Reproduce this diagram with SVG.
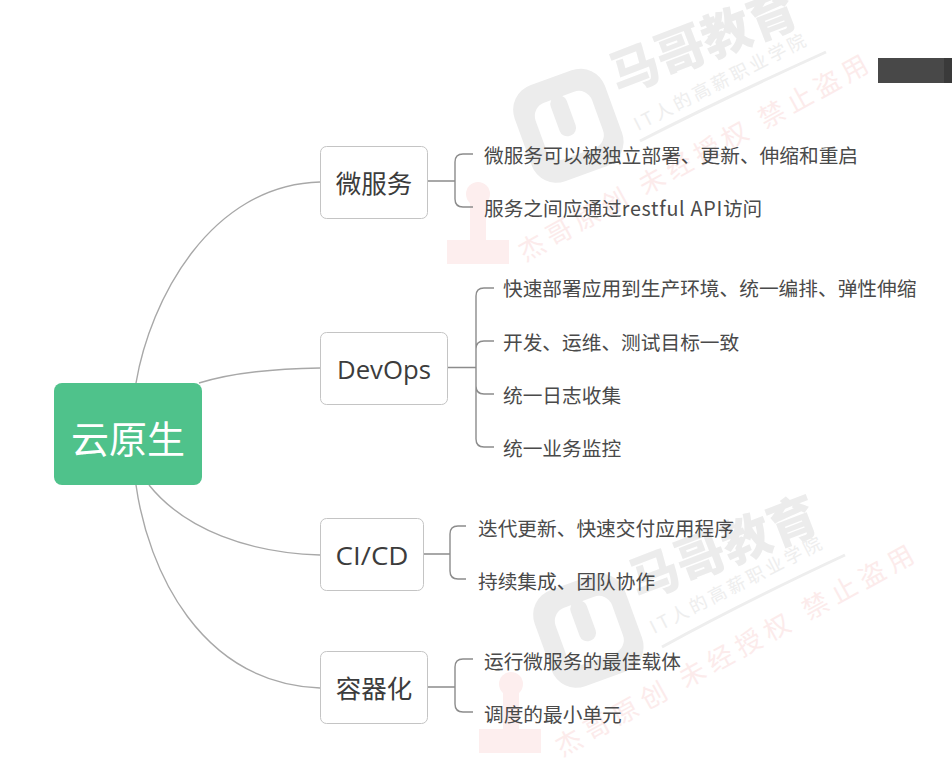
<svg xmlns="http://www.w3.org/2000/svg" width="952" height="778" viewBox="0 0 952 778">
<style>
text{font-family:"Noto Sans CJK SC","Liberation Sans",sans-serif}
.n{fill:#fff;stroke:#c4c4c4;stroke-width:1}
.nt{font-size:25.5px;fill:#3c3c3c;text-anchor:middle;dominant-baseline:central}
.lat{font-family:"Open Sans","Liberation Sans",sans-serif;font-size:26px}
.l{font-size:19.7px;fill:#4a4a4a}
.c{fill:none;stroke:#a8a8a8;stroke-width:1.4}
.b{fill:none;stroke:#8c8c8c;stroke-width:1.4}
.wm1{font-size:50px;font-weight:900;fill:#ececec}
.wm2{font-size:18px;fill:#eeeeee}
.wm3{font-size:26px;fill:#fcebeb}
.ul{fill:none;stroke:#eeeeee;stroke-width:3}
.lg{fill:#ececec}
.lw{fill:#fff}
.st{fill:#fdeeee}
</style>
<rect width="952" height="778" fill="#fff"/>
<g id="watermarks">
<g id="wm-a">
<text class="wm1" transform="translate(618,94) rotate(-21)" textLength="197" lengthAdjust="spacingAndGlyphs">马哥教育</text>
<text class="wm2" transform="translate(638,131) rotate(-27)" textLength="190" lengthAdjust="spacing">IT人的高薪职业学院</text>
<path class="ul" d="M640 141 Q720 100 826 52"/>
<g transform="translate(567,122) rotate(-20)">
<rect class="lg" x="-48" y="-47" width="96" height="102" rx="26"/>
<rect class="lw" x="-29" y="-26" width="60" height="60" rx="14"/>
<rect class="lg" x="-10" y="-28" width="17" height="42" rx="8"/>
</g>
<text class="wm3" transform="translate(525,262) rotate(-29)" textLength="395" lengthAdjust="spacing">杰哥原创 未经授权 禁止盗用</text>
</g>
<g id="wm-b">
<text class="wm1" transform="translate(638,600) rotate(-21)" textLength="197" lengthAdjust="spacingAndGlyphs">马哥教育</text>
<text class="wm2" transform="translate(654,634) rotate(-27)" textLength="190" lengthAdjust="spacing">IT人的高薪职业学院</text>
<path class="ul" d="M662 647 Q740 604 845 555"/>
<g transform="translate(587,627) rotate(-20)">
<rect class="lg" x="-48" y="-47" width="96" height="102" rx="26"/>
<rect class="lw" x="-29" y="-26" width="60" height="60" rx="14"/>
<rect class="lg" x="-10" y="-28" width="17" height="42" rx="8"/>
</g>
<text class="wm3" transform="translate(562,757) rotate(-29)" textLength="405" lengthAdjust="spacing">杰哥原创 未经授权 禁止盗用</text>
</g>
<g id="stamp-a" class="st"><circle cx="478" cy="194" r="12"/><rect x="470" y="200" width="16" height="42"/><rect x="447" y="240" width="62" height="24"/></g>
<g id="stamp-b" class="st"><circle cx="511" cy="684" r="12"/><rect x="503" y="690" width="16" height="42"/><rect x="479" y="729" width="62" height="24"/></g>
</g>
<rect x="878" y="58" width="74" height="25" fill="#484848"/>
<rect x="944" y="58" width="8" height="25" fill="#3a3a3a"/>
<g id="connectors">
<path class="c" d="M136 383 C150 300 210 185 320 182"/>
<path class="c" d="M199 383 C235 372 275 369 320 368"/>
<path class="c" d="M149 485 C185 530 250 553 320 555"/>
<path class="c" d="M136 485 C148 570 200 683 320 688"/>
<path class="b" d="M428 181 H455 M473 154 H463 Q455 154 455 162 V199 Q455 207 463 207 H473"/>
<path class="b" d="M448 367.500 H476 M494 288 H484 Q476 288 476 296 V439 Q476 447 484 447 H494 M476 349 Q476 341 484 341 H494 M476 386 Q476 394 484 394 H494"/>
<path class="b" d="M424 554 H450 M466 526 H458 Q450 526 450 534 V571 Q450 579 458 579 H466"/>
<path class="b" d="M428 687 H455 M473 659 H463 Q455 659 455 667 V704 Q455 712 463 712 H473"/>
</g>
<g id="root"><rect x="54" y="383" width="148" height="102" rx="8" fill="#4fc28b"/><text x="128" y="436" font-size="38px" fill="#fff" text-anchor="middle" dominant-baseline="central">云原生</text></g>
<g id="node-weifuwu"><rect class="n" x="320.500" y="146.500" width="107" height="72" rx="6"/><text class="nt" x="374" y="181">微服务</text></g>
<g id="node-devops"><rect class="n" x="320.500" y="332.500" width="127" height="72" rx="6"/><text class="nt lat" x="384" y="369" textLength="94" lengthAdjust="spacingAndGlyphs">DevOps</text></g>
<g id="node-cicd"><rect class="n" x="320.500" y="518.500" width="103" height="72" rx="6"/><text class="nt lat" x="372" y="555" textLength="73" lengthAdjust="spacingAndGlyphs">CI/CD</text></g>
<g id="node-rongqi"><rect class="n" x="320.500" y="651.500" width="107" height="72" rx="6"/><text class="nt" x="374" y="686">容器化</text></g>
<g id="leaves">
<text class="l" x="484" y="162.500">微服务可以被独立部署、更新、伸缩和重启</text>
<text class="l" x="484" y="215.500">服务之间应通过<tspan letter-spacing=".73">restful API</tspan>访问</text>
<text class="l" x="503" y="295.500">快速部署应用到生产环境、统一编排、弹性伸缩</text>
<text class="l" x="503" y="349.500">开发、运维、测试目标一致</text>
<text class="l" x="503" y="402.500">统一日志收集</text>
<text class="l" x="503" y="455.500">统一业务监控</text>
<text class="l" x="478" y="535.500">迭代更新、快速交付应用程序</text>
<text class="l" x="478" y="588.500">持续集成、团队协作</text>
<text class="l" x="484" y="668.500">运行微服务的最佳载体</text>
<text class="l" x="484" y="721.500">调度的最小单元</text>
</g>
</svg>
